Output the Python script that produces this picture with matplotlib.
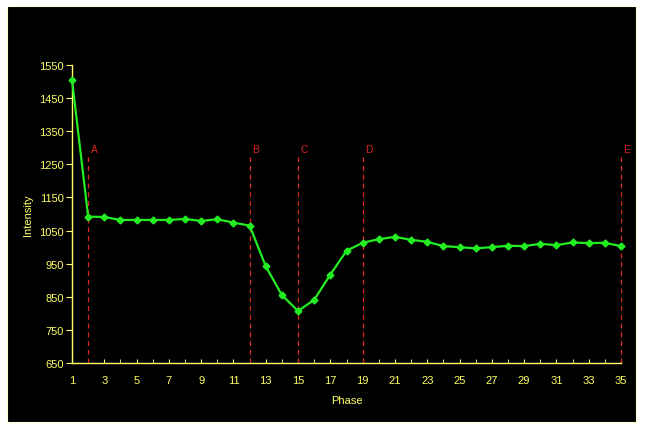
import numpy as np
import matplotlib
matplotlib.use('Agg')
import matplotlib.pyplot as plt
import matplotlib.patches as mpatches
import matplotlib.ticker as mticker

plt.rcParams['font.family'] = ['Liberation Sans', 'DejaVu Sans']

# ---- 数据 ----
phase = list(range(1, 36))
intensity = [1505, 1092, 1091, 1082, 1082, 1082, 1082, 1085, 1079, 1084,
             1074, 1065, 942, 855, 807, 841, 917, 989, 1013, 1024,
             1031, 1022, 1016, 1003, 1000, 996, 1000, 1004, 1003, 1010,
             1006, 1014, 1012, 1013, 1003]
marker_x = [2, 12, 15, 19, 35]
marker_labels = ['A', 'B', 'C', 'D', 'E']
y_ticks = list(range(650, 1551, 100))
x_ticks = list(range(1, 36, 2))

yellow = '#FFFF66'
green = '#22EE22'
red = '#DD2222'

fig = plt.figure(figsize=(6.45, 4.31), dpi=100, facecolor='white')
# 黑色背景框
bg = mpatches.Rectangle((7 / 645, 1 - 423 / 431), 629 / 645, 416 / 431,
                        transform=fig.transFigure, facecolor='black',
                        edgecolor='#FFFFCC', linewidth=0.8, zorder=-10)
fig.patches.append(bg)

ax = fig.add_axes([72 / 645, 67 / 431, 549 / 645, 298 / 431])
ax.set_zorder(5)
ax.set_facecolor('black')

for xv, lab in zip(marker_x, marker_labels):
    ax.plot([xv, xv], [650, 1280], color=red, lw=0.9, ls=(0, (4, 3)), zorder=2, clip_on=False)
    ax.text(xv + 0.15, 1280, lab, color=red, fontsize=7.5, ha='left', va='bottom')

ax.plot(phase, intensity, color=green, lw=1.6, marker='D', markersize=3.5,
        markerfacecolor=green, markeredgecolor=green, zorder=3, clip_on=False)

ax.set_xlim(1, 35)
ax.set_ylim(650, 1550)
ax.set_xticks(x_ticks)
ax.xaxis.set_minor_locator(mticker.MultipleLocator(1))
ax.set_yticks(y_ticks)

for s in ['top', 'right']:
    ax.spines[s].set_visible(False)
for s in ['left', 'bottom']:
    ax.spines[s].set_color(yellow)
    ax.spines[s].set_linewidth(1.0)

ax.tick_params(axis='y', colors=yellow, labelsize=8, length=4, direction='out', pad=2)
ax.tick_params(axis='x', which='major', colors=yellow, labelsize=8, length=3, direction='in', pad=8.5)
ax.tick_params(axis='x', which='minor', colors=yellow, length=3, direction='in')

ax.set_xlabel('Phase', color=yellow, fontsize=8, labelpad=7)
ax.set_ylabel('Intensity', color=yellow, fontsize=8, labelpad=4)

fig.savefig('out.png', dpi=100, facecolor='white')
